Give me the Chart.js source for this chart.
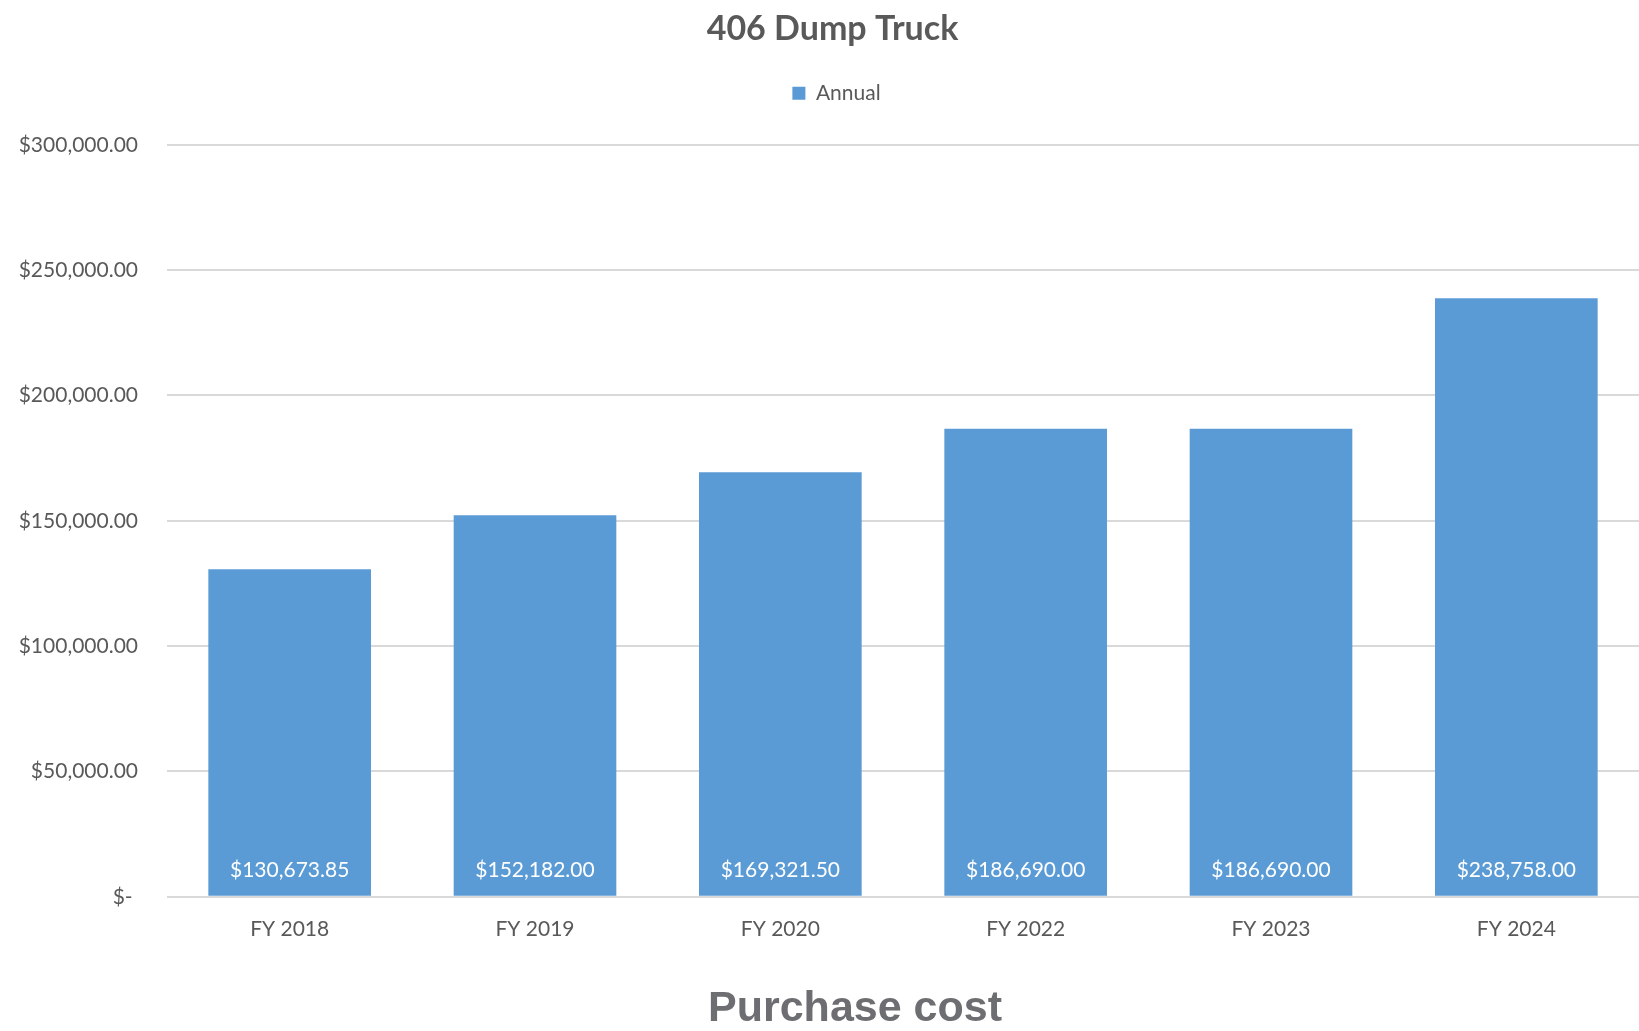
<!DOCTYPE html>
<html>
<head>
<meta charset="utf-8">
<script src="https://cdn.jsdelivr.net/npm/chart.js@4.4.1/dist/chart.umd.min.js"></script>
<style>
  html, body { margin: 0; padding: 0; background: #ffffff; }
  #wrap { width: 1639px; height: 1031px; position: relative; }
</style>
</head>
<body>
<div id="wrap"><canvas id="myChart"></canvas></div>
<script>
const categories = ['FY 2018', 'FY 2019', 'FY 2020', 'FY 2022', 'FY 2023', 'FY 2024'];
const annual = [130673.85, 152182.00, 169321.50, 186690.00, 186690.00, 238758.00];
const yTicks = [0, 50000, 100000, 150000, 200000, 250000, 300000];

const barColor = '#5b9bd5';
const textColor = '#595959';

function money(v) {
  let parts = v.toFixed(2).split('.');
  parts[0] = parts[0].replace(/\B(?=(\d{3})+(?!\d))/g, ',');
  return '$' + parts.join('.');
}

// give the legend some extra room underneath
const legendRoom = {
  id: 'legendRoom',
  beforeInit(chart) {
    const origFit = chart.legend.fit;
    chart.legend.fit = function fit() {
      origFit.bind(chart.legend)();
      this.height += 31;
    };
  },
  afterLayout(chart) {
    // title and legend sit a little right of the canvas centre in the original
    chart.titleBlock.left += 13;
    chart.titleBlock.right += 13;
    chart.legend.left += 17;
    chart.legend.right += 17;
  }
};

// values written at the foot of each bar
const barLabels = {
  id: 'barLabels',
  afterDatasetsDraw(chart) {
    const ctx = chart.ctx;
    const meta = chart.getDatasetMeta(0);
    ctx.save();
    ctx.fillStyle = '#ffffff';
    ctx.font = '21px Lato, "Open Sans", sans-serif';
    ctx.textAlign = 'center';
    ctx.textBaseline = 'middle';
    meta.data.forEach((bar, i) => {
      ctx.fillText(money(annual[i]), bar.x, bar.base - 26);
    });
    ctx.restore();
  }
};

// big caption under the chart
const caption = {
  id: 'caption',
  afterDraw(chart) {
    const ctx = chart.ctx;
    ctx.save();
    ctx.fillStyle = '#6d6e71';
    ctx.font = 'bold 43px "Liberation Sans", Arial, sans-serif';
    ctx.textAlign = 'center';
    ctx.textBaseline = 'middle';
    ctx.fillText('Purchase cost', 855, 1009);
    ctx.restore();
  }
};

const myChart = document.getElementById('myChart');
new Chart(myChart, {
  type: 'bar',
  data: {
    labels: categories,
    datasets: [
      {
        label: 'Annual',
        data: annual,
        backgroundColor: barColor,
        borderWidth: 0,
        categoryPercentage: 1,
        barPercentage: 0.663
      }
    ]
  },
  options: {
    responsive: true,
    maintainAspectRatio: false,
    animation: false,
    layout: {
      padding: { left: 0, right: 0, top: 0, bottom: 77 }
    },
    plugins: {
      title: {
        display: true,
        text: '406 Dump Truck',
        color: textColor,
        font: { family: 'Lato, "Open Sans", sans-serif', size: 34, weight: 'bold' },
        padding: { top: 9, bottom: 23 }
      },
      legend: {
        display: true,
        labels: {
          color: textColor,
          font: { family: 'Lato, "Open Sans", sans-serif', size: 21 },
          boxWidth: 13,
          boxHeight: 13,
          padding: 10
        }
      },
      tooltip: { enabled: false }
    },
    scales: {
      x: {
        grid: { display: false },
        border: { display: false },
        ticks: {
          color: textColor,
          font: { family: 'Lato, "Open Sans", sans-serif', size: 21 },
          padding: 12
        }
      },
      y: {
        min: 0,
        max: 300000,
        afterFit(scale) {
          scale.width = 167;
        },
        afterBuildTicks(scale) {
          scale.ticks = yTicks.map(v => ({ value: v }));
        },
        grid: {
          color: '#d9d9d9',
          lineWidth: 2,
          drawTicks: false
        },
        border: { display: false },
        ticks: {
          color: textColor,
          font: { family: 'Lato, "Open Sans", sans-serif', size: 21 },
          padding: 29,
          callback: function (value) {
            return value === 0 ? '$- ' : money(value);
          }
        }
      }
    }
  },
  plugins: [legendRoom, barLabels, caption]
});
</script>
</body>
</html>
